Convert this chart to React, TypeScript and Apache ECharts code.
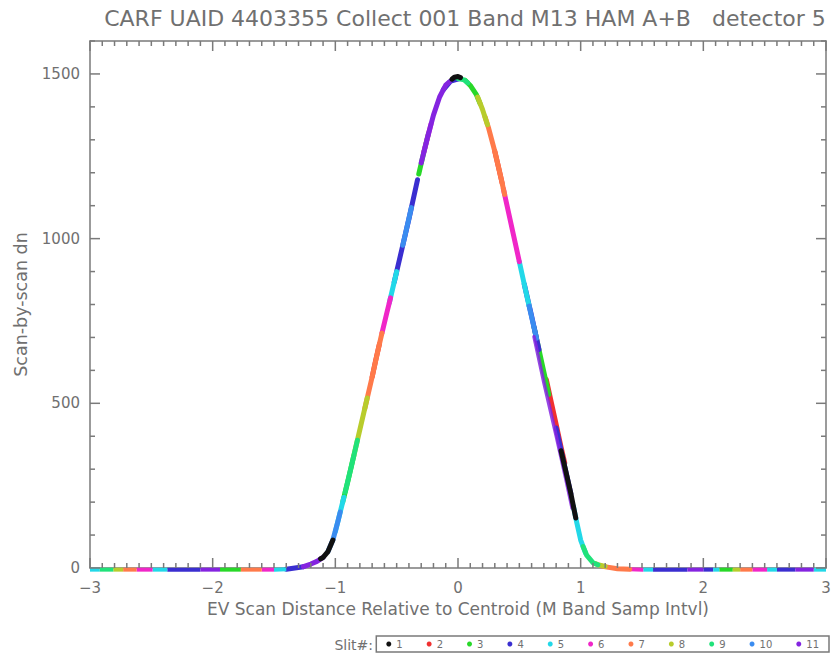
import React, { useEffect, useRef } from "react";
import * as echarts from "echarts";

const titleText = "CARF UAID 4403355 Collect 001 Band M13 HAM A+B   detector 5";
const xName = "EV Scan Distance Relative to Centroid (M Band Samp Intvl)";
const yName = "Scan-by-scan dn";
const slitNames = ["1", "2", "3", "4", "5", "6", "7", "8", "9", "10", "11"];
const xMajorTicks = [-3, -2, -1, 0, 1, 2, 3];
const yMajorTicks = [0, 500, 1000, 1500];

// Each slit: list of segments, each segment a list of [x, y]
const slit1 = [
  [[-1.12, 28], [-1.1, 32], [-1.06, 50], [-1.02, 85]],
  [[-0.05, 1484], [-0.03, 1490], [0.0, 1492], [0.02, 1489]],
  [[0.84, 356], [0.88, 292], [0.92, 226], [0.96, 152]],
];
const slit2 = [
  [[-0.7, 580], [-0.67, 632], [-0.64, 681]],
  [[0.3, 1265], [0.33, 1217], [0.36, 1168]],
  [[0.72, 572], [0.76, 504], [0.8, 436], [0.84, 367], [0.87, 319]],
];
const slit3 = [
  [[-1.94, -5], [-1.77, -5]],
  [[-0.94, 200], [-0.9, 260], [-0.85, 340]],
  [[-0.32, 1196], [-0.28, 1260], [-0.24, 1320]],
  [[0.06, 1480], [0.1, 1465], [0.15, 1437], [0.18, 1410]],
  [[0.62, 731], [0.65, 680], [0.7, 595], [0.74, 527]],
  [[2.13, -5], [2.24, -5]],
];
const slit4 = [
  [[-2.37, -5], [-2.1, -5]],
  [[-1.4, -4], [-1.26, 4]],
  [[-0.52, 868], [-0.45, 980], [-0.4, 1060], [-0.33, 1179]],
  [[-0.12, 1452], [-0.06, 1478], [0.0, 1484]],
  [[0.54, 862], [0.6, 765], [0.66, 663]],
  [[0.8, 425], [0.86, 324], [0.92, 226]],
  [[1.59, -5], [1.87, -5]],
  [[2.0, -5], [2.08, -5]],
  [[2.6, -5], [2.75, -5]],
];
const slit5 = [
  [[-3.0, -5], [-2.92, -5]],
  [[-2.49, -5], [-2.37, -5]],
  [[-1.5, -5], [-1.4, -4]],
  [[-1.0, 110], [-0.96, 170], [-0.93, 215]],
  [[-0.56, 805], [-0.5, 900]],
  [[0.5, 930], [0.55, 845], [0.58, 795]],
  [[0.94, 188], [0.97, 135], [1.0, 85], [1.04, 45]],
  [[1.51, -5], [1.59, -5]],
  [[2.08, -5], [2.13, -5]],
  [[2.52, -5], [2.6, -5]],
  [[2.9, -5], [3.0, -5]],
];
const slit6 = [
  [[-2.62, -5], [-2.49, -5]],
  [[-1.6, -5], [-1.5, -5]],
  [[-0.62, 713], [-0.58, 775], [-0.55, 820]],
  [[-0.28, 1260], [-0.22, 1348]],
  [[0.37, 1151], [0.4, 1100], [0.45, 1015], [0.5, 930]],
  [[1.4, -4], [1.51, -5]],
  [[2.4, -5], [2.52, -5]],
];
const slit7 = [
  [[-2.73, -5], [-2.62, -5]],
  [[-1.77, -5], [-1.6, -5]],
  [[-0.76, 484], [-0.7, 580], [-0.65, 665], [-0.62, 713]],
  [[0.22, 1370], [0.25, 1335], [0.3, 1265], [0.35, 1185], [0.38, 1134]],
  [[1.18, 5], [1.3, -2], [1.4, -4]],
  [[2.3, -5], [2.4, -5]],
];
const slit8 = [
  [[-2.81, -5], [-2.73, -5]],
  [[-0.85, 340], [-0.8, 420], [-0.74, 516]],
  [[0.16, 1430], [0.2, 1392], [0.24, 1346]],
  [[1.12, 13], [1.15, 9], [1.2, 5]],
  [[2.24, -5], [2.3, -5]],
];
const slit9 = [
  [[-2.92, -5], [-2.81, -5]],
  [[-0.92, 230], [-0.87, 308], [-0.82, 388]],
  [[0.0, 1486], [0.05, 1482], [0.08, 1473]],
  [[1.02, 65], [1.05, 38], [1.1, 16], [1.14, 10]],
];
const slit10 = [
  [[-1.06, 50], [-1.02, 85], [-0.98, 140], [-0.96, 170]],
  [[-0.45, 980], [-0.38, 1094]],
  [[0.58, 795], [0.64, 697]],
];
const slit11 = [
  [[-2.1, -5], [-1.94, -5]],
  [[-1.26, 4], [-1.2, 12], [-1.15, 20], [-1.1, 32]],
  [[-0.3, 1230], [-0.25, 1305], [-0.2, 1375], [-0.15, 1430], [-0.1, 1466], [-0.07, 1476]],
  [[0.62, 702], [0.7, 563], [0.8, 402], [0.88, 268], [0.93, 182]],
  [[1.87, -5], [2.0, -5]],
  [[2.75, -5], [2.9, -5]],
];

const slits = [slit1, slit2, slit3, slit4, slit5, slit6, slit7, slit8, slit9, slit10, slit11];
const slitColors = [
  "#111111", "#f03030", "#28d828", "#3a2ed0", "#22d8e8", "#f026c8",
  "#ff7a4a", "#b8cc2c", "#20e27a", "#3a8cf0", "#8424e0",
];

const FONT = "DejaVu Sans";
const AXIS = "#7a7a7a";
const TEXT = "#707070";

export default function App() {
  const ref = useRef<HTMLDivElement>(null);
  useEffect(() => {
    if (!ref.current) return;
    const chart = echarts.init(ref.current, null, { renderer: "svg" });
    const series: any[] = [];
    slits.forEach((segs, i) => {
      segs.forEach((seg, j) => {
        const offsetPurple = i === 10 && j === 3;
        const flat = seg.every((p) => p[1] <= 0);
        series.push({
          type: "line",
          name: slitNames[i],
          data: seg,
          showSymbol: false,
          symbol: "circle",
          clip: false,
          silent: true,
          z: i === 0 ? 5 : 3,
          itemStyle: { color: slitColors[i] },
          lineStyle: {
            color: slitColors[i],
            width: offsetPurple ? 3.5 : flat ? 4 : 5,
            opacity: offsetPurple ? 0.85 : 1,
            cap: flat ? "butt" : "round",
            join: "round",
          },
        });
      });
    });
    const axisLine = { show: true, onZero: false, lineStyle: { color: AXIS, width: 1.5 } };
    const baseX = {
      type: "value",
      min: -3,
      max: 3,
      interval: 1,
      splitLine: { show: false },
      axisLine,
      axisTick: { show: false },
    };
    const baseY = {
      type: "value",
      min: 0,
      max: 1600,
      interval: 500,
      splitLine: { show: false },
      axisLine,
      axisTick: { show: false },
    };
    const staticGraphic: any[] = [
      {
        type: "text",
        id: "title",
        x: 465,
        y: 18,
        style: {
          text: titleText,
          fill: TEXT,
          font: `22px "${FONT}"`,
          textAlign: "center",
          textVerticalAlign: "middle",
        },
      },
      {
        type: "text",
        id: "slitLabel",
        x: 373,
        y: 645,
        style: {
          text: "Slit#:",
          fill: TEXT,
          font: `14px "${FONT}"`,
          textAlign: "right",
          textVerticalAlign: "middle",
        },
      },
    ];
    chart.setOption({
      animation: false,
      backgroundColor: "#ffffff",
      grid: { left: 90, right: 9, top: 41, bottom: 86 },
      graphic: staticGraphic,
      legend: {
        data: slitNames,
        right: 6,
        top: 636,
        icon: "circle",
        itemWidth: 5,
        itemHeight: 5,
        itemGap: 24,
        padding: [3, 10, 3, 10],
        borderColor: AXIS,
        borderWidth: 1.5,
        selectedMode: false,
        textStyle: { color: TEXT, fontSize: 10, fontFamily: FONT },
      },
      xAxis: [
        {
          ...baseX,
          position: "bottom",
          axisLabel: {
            show: true,
            color: TEXT,
            fontSize: 15,
            fontFamily: FONT,
            margin: 12,
            formatter: (v: number) => String(v).replace("-", "\u2212"),
          },
          name: xName,
          nameLocation: "middle",
          nameGap: 32,
          nameTextStyle: { color: TEXT, fontSize: 17, fontFamily: FONT },
        },
        { ...baseX, position: "top", axisLabel: { show: false } },
      ],
      yAxis: [
        {
          ...baseY,
          position: "left",
          axisLabel: {
            show: true,
            color: TEXT,
            fontSize: 15,
            fontFamily: FONT,
            margin: 10,
            showMaxLabel: false,
            formatter: (v: number) => (yMajorTicks.indexOf(v) >= 0 ? String(v) : ""),
          },
          name: yName,
          nameLocation: "middle",
          nameGap: 60,
          nameRotate: 90,
          nameTextStyle: { color: TEXT, fontSize: 17.5, fontFamily: FONT },
        },
        { ...baseY, position: "right", axisLabel: { show: false } },
      ],
      series,
    });

    // Inward tick marks on all four sides, placed through the axes' own scales
    const px = (v: number) => chart.convertToPixel({ xAxisIndex: 0 }, v) as number;
    const py = (v: number) => chart.convertToPixel({ yAxisIndex: 0 }, v) as number;
    const left = px(-3);
    const right = px(3);
    const bottom = py(0);
    const top = py(1600);
    const ticks: any[] = [];
    const tickLine = (x1: number, y1: number, x2: number, y2: number) => ({
      type: "line",
      silent: true,
      z: 10,
      shape: { x1, y1, x2, y2 },
      style: { stroke: AXIS, lineWidth: 1.5 },
    });
    for (let k = 0; k <= 60; k++) {
      const v = -3 + k / 10;
      const major = xMajorTicks.indexOf(Math.round(v * 10) / 10) >= 0;
      const len = major ? 10 : 5;
      const x = px(v);
      ticks.push(tickLine(x, bottom, x, bottom - len));
      ticks.push(tickLine(x, top, x, top + len));
    }
    for (let v = 0; v <= 1600; v += 100) {
      const major = yMajorTicks.indexOf(v) >= 0;
      const len = major ? 10 : 5;
      const y = py(v);
      ticks.push(tickLine(left, y, left + len, y));
      ticks.push(tickLine(right, y, right - len, y));
    }
    chart.setOption({ graphic: [...staticGraphic, ...ticks] });

    return () => chart.dispose();
  }, []);
  return <div ref={ref} style={{ width: 835, height: 654, position: "absolute", left: 0, top: 0 }} />;
}
